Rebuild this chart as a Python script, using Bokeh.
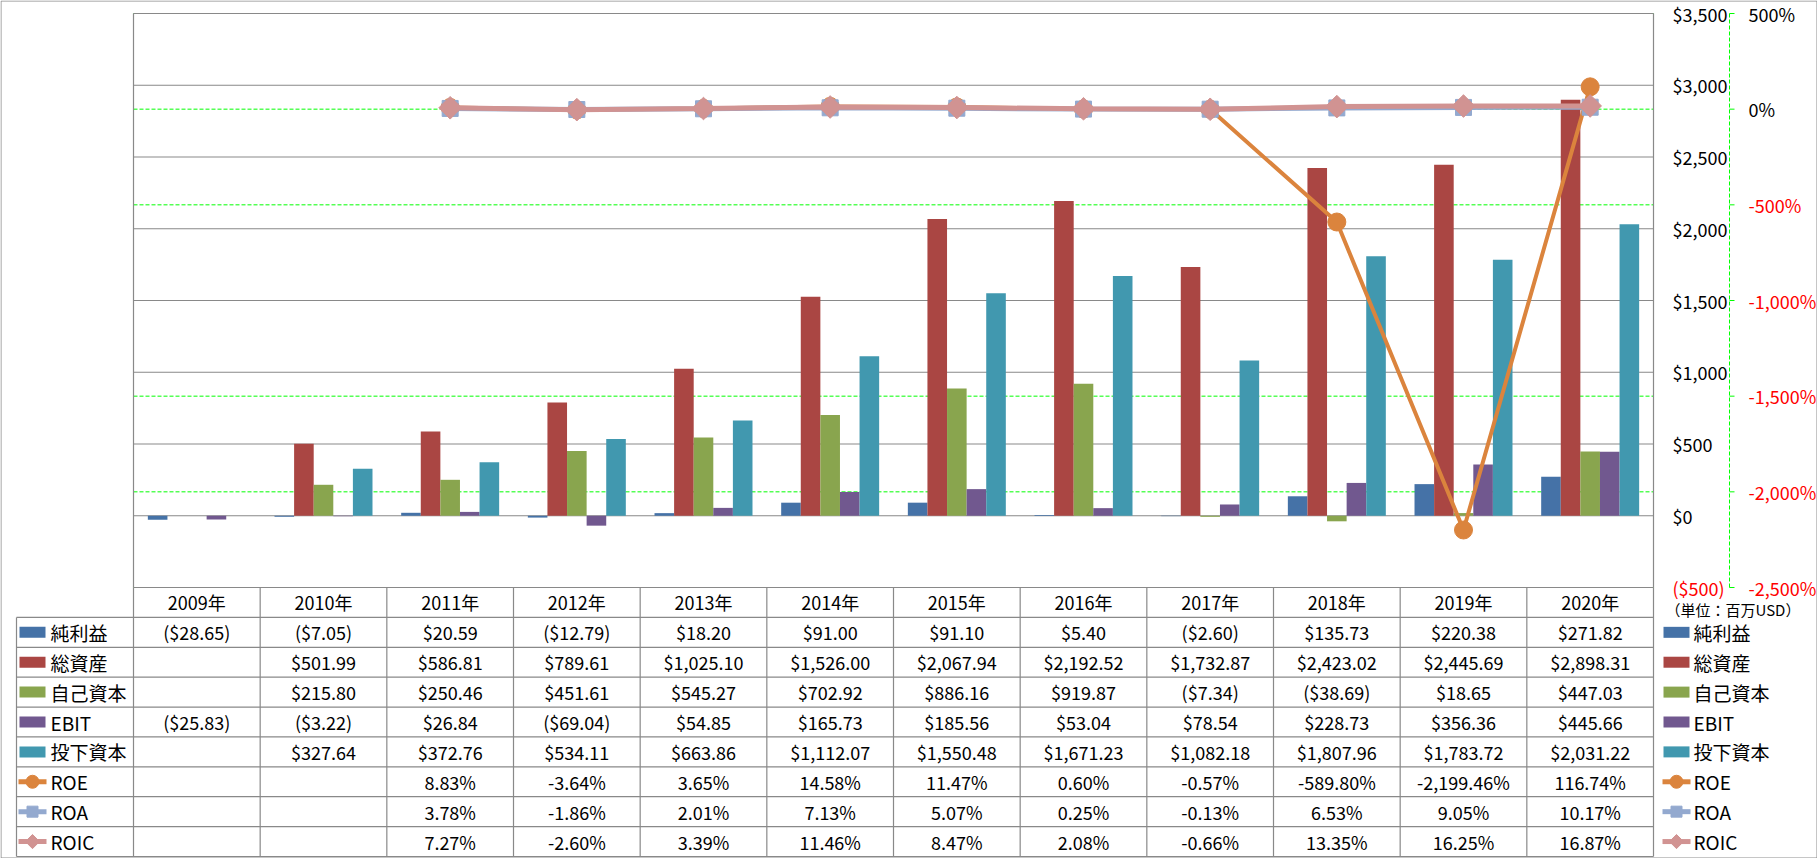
import math
from bokeh.plotting import figure
from bokeh.models import Range1d
from bokeh.core.properties import value
from bokeh.embed import file_html
from bokeh.resources import INLINE

# ---------------- data ----------------
years = ["2009年", "2010年", "2011年", "2012年", "2013年", "2014年",
         "2015年", "2016年", "2017年", "2018年", "2019年", "2020年"]
net_income = [-28.65, -7.05, 20.59, -12.79, 18.20, 91.00, 91.10, 5.40, -2.60, 135.73, 220.38, 271.82]
total_assets = [None, 501.99, 586.81, 789.61, 1025.10, 1526.00, 2067.94, 2192.52, 1732.87, 2423.02, 2445.69, 2898.31]
equity = [None, 215.80, 250.46, 451.61, 545.27, 702.92, 886.16, 919.87, -7.34, -38.69, 18.65, 447.03]
ebit = [-25.83, -3.22, 26.84, -69.04, 54.85, 165.73, 185.56, 53.04, 78.54, 228.73, 356.36, 445.66]
invested = [None, 327.64, 372.76, 534.11, 663.86, 1112.07, 1550.48, 1671.23, 1082.18, 1807.96, 1783.72, 2031.22]
roe = [None, None, 8.83, -3.64, 3.65, 14.58, 11.47, 0.60, -0.57, -589.80, -2199.46, 116.74]
roa = [None, None, 3.78, -1.86, 2.01, 7.13, 5.07, 0.25, -0.13, 6.53, 9.05, 10.17]
roic = [None, None, 7.27, -2.60, 3.39, 11.46, 8.47, 2.08, -0.66, 13.35, 16.25, 16.87]
usd_ticks = [-500, 0, 500, 1000, 1500, 2000, 2500, 3000, 3500]
pct_ticks = [-2500, -2000, -1500, -1000, -500, 0, 500]

bar_names = ["純利益", "総資産", "自己資本", "EBIT", "投下資本"]
line_names = ["ROE", "ROA", "ROIC"]
unit_note = "（単位：百万USD）"

# ---------------- styles / layout (pixels) ----------------
W, H = 1817, 858
PLOT_L, PLOT_R, PLOT_T, PLOT_B = 133, 1653, 13, 587
TABLE_B = 856
LEG_L = 16
FONT = "Noto Sans CJK JP"
bar_colors = ["#4572A7", "#AA4643", "#89A54E", "#71588F", "#4198AF"]
line_colors = ["#DB843D", "#93A9CF", "#D19392"]
GRID_C = "#898989"
GREEN = "#00FF00"
RED = "#FF0000"
n = len(years)

cw = (PLOT_R - PLOT_L) / n
usd_px = (usd_ticks[-1] - usd_ticks[0]) / (PLOT_B - PLOT_T)
pct_px = (pct_ticks[-1] - pct_ticks[0]) / (PLOT_B - PLOT_T)
RH = (TABLE_B - PLOT_B) / 9.0

def px2x(px):
    return (px - PLOT_L) / cw

def nz(v):
    return float("nan") if v is None else v

p = figure(width=W, height=H, output_backend="svg", toolbar_location=None,
           x_range=Range1d(px2x(0), px2x(W)),
           y_range=Range1d(usd_ticks[0] - (H - PLOT_B) * usd_px, usd_ticks[-1] + PLOT_T * usd_px),
           x_axis_location=None, y_axis_location=None,
           min_border_left=0, min_border_top=0, min_border_bottom=0, min_border_right=0)
p.extra_y_ranges = {
    "pct": Range1d(pct_ticks[0] - (H - PLOT_B) * pct_px, pct_ticks[-1] + PLOT_T * pct_px),
    "tbl": Range1d(-(H - PLOT_B) / RH, PLOT_B / RH),
}
p.outline_line_color = None
p.background_fill_color = "white"
p.border_fill_color = "white"
p.xgrid.visible = False
p.ygrid.visible = False

# outer chart border
p.quad(left=[px2x(0.5)], right=[px2x(W - 0.5)], bottom=[-(H - 0.5 - PLOT_B) / RH], top=[(PLOT_B - 0.5) / RH],
       y_range_name="tbl", fill_color=None, line_color="#8c8c8c", line_width=1)

# grid lines: secondary (green dashed), primary (grey)
p.segment(x0=[0] * len(pct_ticks), x1=[n] * len(pct_ticks), y0=pct_ticks, y1=pct_ticks,
          y_range_name="pct", line_color=GREEN, line_dash="4 2", line_width=1)
p.segment(x0=[0] * len(usd_ticks), x1=[n] * len(usd_ticks), y0=usd_ticks, y1=usd_ticks,
          line_color=GRID_C, line_width=1.2)

# primary axis labels ($)
usd_lbl = [f"${v:,}" if v >= 0 else f"(${-v:,})" for v in usd_ticks]
usd_col = ["black" if v >= 0 else RED for v in usd_ticks]
p.text(x=[px2x(PLOT_R + 19)] * len(usd_ticks), y=usd_ticks, text=usd_lbl, text_color=usd_col,
       text_font=value(FONT), text_font_size="18px", text_align="left", text_baseline="middle")

# secondary axis (%): dashed green line, ticks, labels
ax2_x = px2x(PLOT_R + 76)
p.segment(x0=[ax2_x], x1=[ax2_x], y0=[pct_ticks[0]], y1=[pct_ticks[-1]], y_range_name="pct",
          line_color=GREEN, line_dash="4 2", line_width=1)
p.segment(x0=[ax2_x] * len(pct_ticks), x1=[px2x(PLOT_R + 81)] * len(pct_ticks), y0=pct_ticks, y1=pct_ticks,
          y_range_name="pct", line_color=GREEN, line_width=1)
pct_lbl = [f"{v:,}%" for v in pct_ticks]
pct_col = ["black" if v >= 0 else RED for v in pct_ticks]
p.text(x=[px2x(PLOT_R + 95)] * len(pct_ticks), y=pct_ticks, y_range_name="pct", text=pct_lbl,
       text_color=pct_col, text_font=value(FONT), text_font_size="18px",
       text_align="left", text_baseline="middle")

# bars
bar_series = [net_income, total_assets, equity, ebit, invested]
BW = 0.1547
for k, (vals, c) in enumerate(zip(bar_series, bar_colors)):
    xs = [i + 0.5 + (k - 2) * BW for i in range(n)]
    p.vbar(x=xs, top=[nz(v) for v in vals], bottom=0, width=BW, fill_color=c, line_color=None)

# lines
xc = [i + 0.5 for i in range(n)]
line_series = [roe, roa, roic]
markers = [("circle", 18, 0.0), ("square", 16, 0.0), ("square", 16, math.pi / 4)]
leg_markers = [("circle", 13, 0.0), ("square", 11, 0.0), ("square", 10, math.pi / 4)]
line_widths = [4, 5, 5]
for vals, c, (mk, sz, ang), lw in zip(line_series, line_colors, markers, line_widths):
    ys = [nz(v) for v in vals]
    p.line(xc, ys, y_range_name="pct", line_color=c, line_width=lw)
    p.scatter(xc, ys, y_range_name="pct", marker=mk, size=sz, angle=ang, fill_color=c, line_color=c)

# table grid lines (plot-area side borders, cell borders)
p.segment(x0=[0, n], y0=[usd_ticks[-1]] * 2, x1=[0, n], y1=[usd_ticks[0]] * 2, line_color=GRID_C, line_width=1.2)
p.segment(x0=list(range(n + 1)), y0=[0] * (n + 1), x1=list(range(n + 1)), y1=[-9] * (n + 1),
          y_range_name="tbl", line_color=GRID_C, line_width=1.2)
x_leg = px2x(LEG_L)
p.segment(x0=[x_leg], y0=[-1], x1=[x_leg], y1=[-9], y_range_name="tbl", line_color=GRID_C, line_width=1.2)
p.segment(x0=[x_leg] * 9, y0=[-r for r in range(1, 10)], x1=[n] * 9, y1=[-r for r in range(1, 10)],
          y_range_name="tbl", line_color=GRID_C, line_width=1.2)

# table texts
def money(v):
    if v is None:
        return ""
    return f"${v:,.2f}" if v >= 0 else f"(${-v:,.2f})"

def pct(v):
    return "" if v is None else f"{v:,.2f}%"

tx, ty, tt = [], [], []
for i, yname in enumerate(years):
    tx.append(i + 0.5); ty.append(-0.5); tt.append(yname)
rows = [[money(v) for v in s] for s in bar_series] + [[pct(v) for v in s] for s in line_series]
for r, row in enumerate(rows):
    for i, s in enumerate(row):
        tx.append(i + 0.5); ty.append(-(r + 1.5)); tt.append(s)
p.text(x=tx, y=ty, text=tt, y_range_name="tbl", text_font=value(FONT), text_font_size="18px",
       text_align="center", text_baseline="middle", text_color="black")

# legends (left key column of the table, and right-hand legend)
names = bar_names + line_names
for sw_l, sw_r, lab_x in ((LEG_L + 3, LEG_L + 29, LEG_L + 34), (PLOT_R + 10, PLOT_R + 36, PLOT_R + 40)):
    ybar = [-(k + 1.5) for k in range(len(bar_names))]
    p.rect(x=[px2x((sw_l + sw_r) / 2)] * len(ybar), y=ybar, width=sw_r - sw_l, height=11,
           width_units="screen", height_units="screen", y_range_name="tbl",
           fill_color=bar_colors, line_color=None)
    for j, (c, (mk, sz, ang)) in enumerate(zip(line_colors, leg_markers)):
        yy = -(len(bar_names) + j + 1.5)
        p.segment(x0=[px2x(sw_l - 1)], x1=[px2x(sw_r + 1)], y0=[yy], y1=[yy], y_range_name="tbl",
                  line_color=c, line_width=5)
        p.scatter(x=[px2x((sw_l + sw_r) / 2)], y=[yy], y_range_name="tbl", marker=mk, size=sz,
                  angle=ang, fill_color=c, line_color=c)
    p.text(x=[px2x(lab_x)] * len(names), y=[-(k + 1.5) for k in range(len(names))], text=names,
           y_range_name="tbl", text_font=value(FONT), text_font_size="19px",
           text_align="left", text_baseline="middle", text_color="black")

p.text(x=[px2x(PLOT_R + 12)], y=[-(609 - PLOT_B) / RH], y_range_name="tbl", text=[unit_note],
       text_font=value(FONT), text_font_size="15px", text_align="left", text_baseline="middle",
       text_color="black")

open("out.html", "w").write(file_html(p, INLINE))
